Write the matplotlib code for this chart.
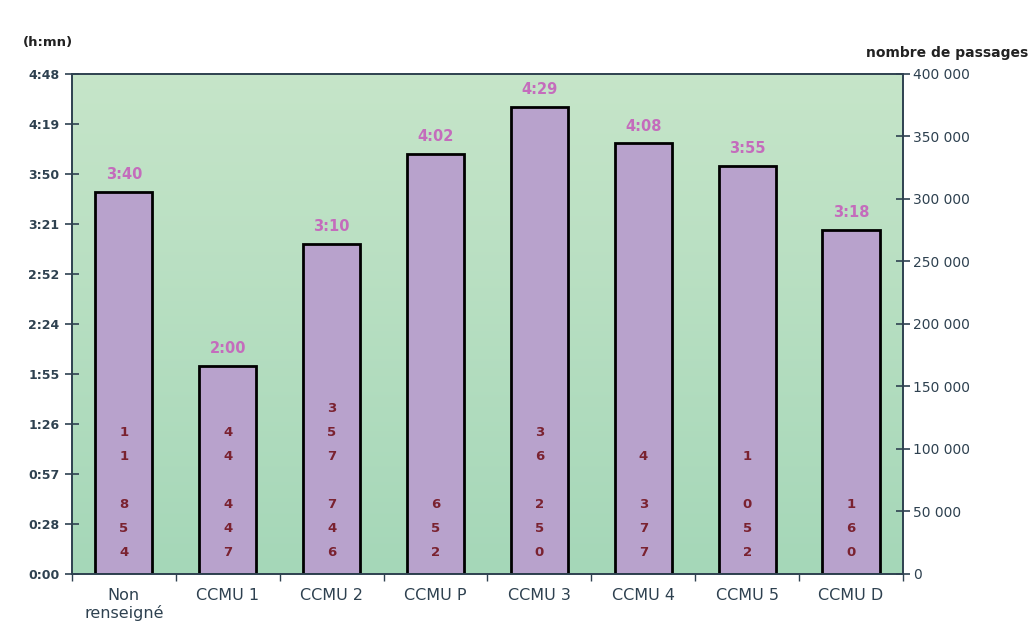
import numpy as np
import matplotlib
matplotlib.use("Agg")
import matplotlib.pyplot as plt
from matplotlib.ticker import FixedLocator, FuncFormatter
from matplotlib.colors import LinearSegmentedColormap

plt.rcParams['font.family'] = ['DejaVu Sans']

categories = ['Non\nrenseigné', 'CCMU 1', 'CCMU 2', 'CCMU P',
              'CCMU 3', 'CCMU 4', 'CCMU 5', 'CCMU D']
# durée moyenne en minutes
durations = [220, 120, 190, 242, 269, 248, 235, 198]
# nombre de passages par classe
passages = [11854, 44447, 357746, 652, 36250, 4377, 1052, 160]

left_ticks = [i * 28.8 for i in range(11)]
right_ticks = [i * 50000 for i in range(9)]

axis_col = '#2e4150'
bar_col = '#b8a2cc'
label_col = '#c46cbc'
count_col = '#7a2230'


def hmn(v, pos=None):
    secs = int(round(v * 60))
    m = secs // 60
    return '%d:%02d' % (m // 60, m % 60)


def spaced(n):
    return '{:,}'.format(n).replace(',', ' ')


fig = plt.figure(figsize=(10.31, 6.22), dpi=100)
ax = fig.add_axes([0.0698, 0.0772, 0.8060, 0.8040])
x = np.arange(len(categories))

# fond dégradé vert
grad = LinearSegmentedColormap.from_list('bg', ['#a5d7b8', '#c6e5c9'])
ax.imshow(np.linspace(0, 1, 256).reshape(-1, 1), cmap=grad, origin='lower',
          extent=[-0.5, len(categories) - 0.5, 0, 288], aspect='auto', zorder=0)

ax.bar(x, durations, width=0.55, color=bar_col, edgecolor='black',
       linewidth=2, zorder=2)

for xi, d, n in zip(x, durations, passages):
    ax.annotate(hmn(d), (xi, d), xytext=(0, 7), textcoords='offset points',
                ha='center', va='bottom', color=label_col, fontsize=10.5,
                fontweight='bold', zorder=3)
    # chiffres empilés verticalement, un par ligne
    txt = '\n'.join(list(spaced(n)))
    ax.annotate(txt, (xi, 0), xytext=(0, 11), textcoords='offset points',
                ha='center', va='bottom', color=count_col, fontsize=9.5,
                fontweight='bold', linespacing=2.1, zorder=3)

ax.set_xlim(-0.5, len(categories) - 0.5)
ax.set_ylim(0, 288)
ax.yaxis.set_major_locator(FixedLocator(left_ticks))
ax.yaxis.set_major_formatter(FuncFormatter(hmn))
ax.set_xticks(x)
ax.set_xticklabels(categories)
ax.set_xticks(np.arange(-0.5, len(categories)), minor=True)
ax.tick_params(axis='x', which='major', length=0, pad=10, labelsize=11.5,
               labelcolor=axis_col)
ax.tick_params(axis='x', which='minor', length=5, width=1, color=axis_col,
               direction='out')
ax.tick_params(axis='y', direction='inout', length=10, width=1.2,
               color=axis_col, labelsize=9, labelcolor=axis_col, pad=4)
for lbl in ax.get_yticklabels():
    lbl.set_fontweight('bold')
for sp in ax.spines.values():
    sp.set_color(axis_col)
    sp.set_linewidth(1.2)

ax2 = ax.twinx()
ax2.set_ylim(0, 400000)
ax2.yaxis.set_major_locator(FixedLocator(right_ticks))
ax2.yaxis.set_major_formatter(FuncFormatter(lambda v, p: spaced(int(v))))
ax2.tick_params(axis='y', direction='inout', length=10, width=1.2,
                color=axis_col, labelsize=10, labelcolor=axis_col, pad=2)
for sp in ax2.spines.values():
    sp.set_color(axis_col)
    sp.set_linewidth(1.2)

fig.text(0.022, 0.932, '(h:mn)', fontsize=9.5, fontweight='bold',
         color='#222222', va='center')
fig.text(0.997, 0.915, 'nombre de passages', fontsize=10, fontweight='bold',
         color='#222222', va='center', ha='right')

fig.savefig('out.png', dpi=100, facecolor='white')
